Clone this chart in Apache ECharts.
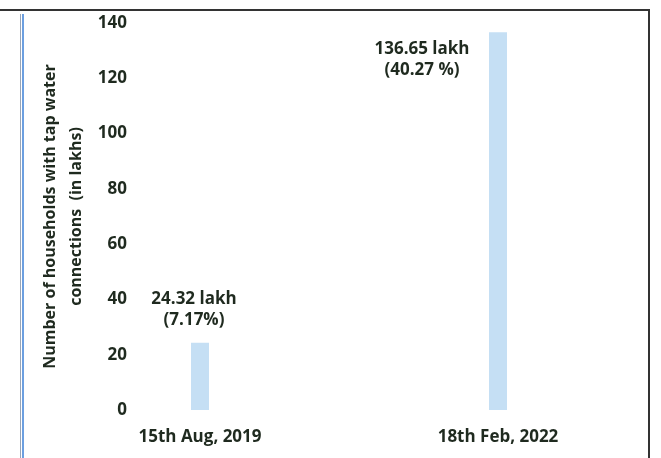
<!DOCTYPE html>
<html>
<head>
<meta charset="utf-8">
<script src="https://cdn.jsdelivr.net/npm/echarts@6/dist/echarts.min.js"></script>
<style>html,body{margin:0;padding:0;background:#fff}#c{width:661px;height:458px}</style>
</head>
<body>
<div id="c"></div>
<script>
const categories = ['15th Aug, 2019', '18th Feb, 2022'];
const values = [24.32, 136.65];
const percents = ['7.17%', '40.27 %'];
const yTicks = [0, 20, 40, 60, 80, 100, 120, 140];

const FONT = '"Open Sans"';
const TXT = '#1f2a1f';
const FS = 17;
const chart = echarts.init(document.getElementById('c'));
const labelOffsets = [[-6, -7], [-76, 53]];
chart.setOption({
  animation: false,
  backgroundColor: '#fff',
  grid: { left: 200, right: 163, top: 23, bottom: 48 },
  xAxis: {
    type: 'category',
    data: categories,
    boundaryGap: false,
    axisLine: { show: false },
    axisTick: { show: false },
    axisLabel: { color: TXT, fontFamily: FONT, fontWeight: 700, fontSize: FS, margin: 19 }
  },
  yAxis: {
    type: 'value',
    min: yTicks[0],
    max: yTicks[yTicks.length - 1],
    interval: 20,
    splitLine: { show: false },
    axisLine: { show: false },
    axisTick: { show: false },
    axisLabel: { color: TXT, fontFamily: FONT, fontWeight: 700, fontSize: FS, margin: 73 },
    name: 'Number of households with tap water\nconnections  (in lakhs)',
    nameLocation: 'middle',
    nameGap: 111,
    nameTextStyle: { color: TXT, fontFamily: FONT, fontWeight: 700, fontSize: 16, lineHeight: 26 }
  },
  series: [{
    type: 'bar',
    barWidth: 18,
    itemStyle: { color: '#c5dff4' },
    data: values.map((v, i) => ({
      value: v,
      label: {
        show: true,
        position: 'top',
        offset: labelOffsets[i],
        formatter: v + ' lakh\n(' + percents[i] + ')',
        color: TXT, fontFamily: FONT, fontWeight: 700, fontSize: FS, lineHeight: 21, align: 'center'
      }
    }))
  }],
  graphic: [
    { type: 'line', shape: { x1: 0, y1: 10, x2: 650, y2: 10 }, style: { stroke: '#333', lineWidth: 2 } },
    { type: 'line', shape: { x1: 649, y1: 10, x2: 649, y2: 458 }, style: { stroke: '#333', lineWidth: 2 } },
    { type: 'line', shape: { x1: 20.5, y1: 14, x2: 20.5, y2: 458 }, style: { stroke: '#9aa6b8', lineWidth: 1 } },
    { type: 'line', shape: { x1: 23, y1: 14, x2: 23, y2: 458 }, style: { stroke: '#6c9fe0', lineWidth: 2 } }
  ]
});
</script>
</body>
</html>
